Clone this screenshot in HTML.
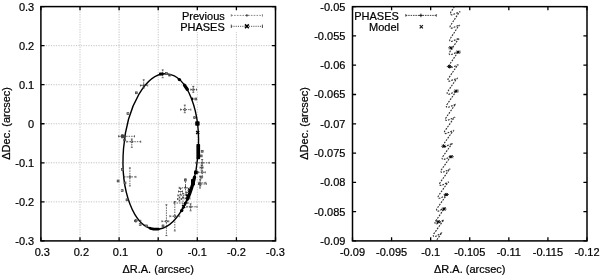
<!DOCTYPE html><html><head><meta charset="utf-8"><style>html,body{margin:0;padding:0;background:#fff;width:600px;height:276px;overflow:hidden}svg{display:block;filter:blur(0.4px)}text{font-family:"Liberation Sans", sans-serif;font-size:11px;fill:#000;stroke:#000;stroke-width:0.22px}</style></head><body>
<svg width="600" height="276" viewBox="0 0 600 276">
<path d="M80.00 6.60V240.90M119.10 6.60V240.90M158.20 6.60V240.90M197.30 6.60V240.90M236.40 6.60V240.90M40.90 45.65H275.50M40.90 84.70H275.50M40.90 123.75H275.50M40.90 162.80H275.50M40.90 201.85H275.50" stroke="#aaa" stroke-width="0.7" stroke-dasharray="1.2 1.3" fill="none"/>
<rect x="176" y="7.5" width="95" height="24.5" fill="#fff"/>
<path d="M40.90 240.90v-3.6M40.90 6.60v3.6M80.00 240.90v-3.6M80.00 6.60v3.6M119.10 240.90v-3.6M119.10 6.60v3.6M158.20 240.90v-3.6M158.20 6.60v3.6M197.30 240.90v-3.6M197.30 6.60v3.6M236.40 240.90v-3.6M236.40 6.60v3.6M275.50 240.90v-3.6M275.50 6.60v3.6M40.90 6.60h3.6M275.50 6.60h-3.6M40.90 45.65h3.6M275.50 45.65h-3.6M40.90 84.70h3.6M275.50 84.70h-3.6M40.90 123.75h3.6M275.50 123.75h-3.6M40.90 162.80h3.6M275.50 162.80h-3.6M40.90 201.85h3.6M275.50 201.85h-3.6M40.90 240.90h3.6M275.50 240.90h-3.6" stroke="#000" stroke-width="1.3" fill="none"/>
<rect x="40.9" y="6.6" width="234.60" height="234.30" stroke="#000" stroke-width="1.5" fill="none"/>
<path d="M352.50 240.90v-3.6M352.50 6.65v3.6M391.58 240.90v-3.6M391.58 6.65v3.6M430.67 240.90v-3.6M430.67 6.65v3.6M469.75 240.90v-3.6M469.75 6.65v3.6M508.83 240.90v-3.6M508.83 6.65v3.6M547.92 240.90v-3.6M547.92 6.65v3.6M587.00 240.90v-3.6M587.00 6.65v3.6M352.50 6.65h3.6M587.00 6.65h-3.6M352.50 35.93h3.6M587.00 35.93h-3.6M352.50 65.21h3.6M587.00 65.21h-3.6M352.50 94.49h3.6M587.00 94.49h-3.6M352.50 123.78h3.6M587.00 123.78h-3.6M352.50 153.06h3.6M587.00 153.06h-3.6M352.50 182.34h3.6M587.00 182.34h-3.6M352.50 211.62h3.6M587.00 211.62h-3.6M352.50 240.90h3.6M587.00 240.90h-3.6" stroke="#000" stroke-width="1.3" fill="none"/>
<rect x="352.5" y="6.65" width="234.50" height="234.25" stroke="#000" stroke-width="1.5" fill="none"/>
<text x="42.30" y="256.2" text-anchor="middle">0.3</text>
<text x="81.40" y="256.2" text-anchor="middle">0.2</text>
<text x="120.50" y="256.2" text-anchor="middle">0.1</text>
<text x="159.60" y="256.2" text-anchor="middle">0</text>
<text x="197.30" y="256.2" text-anchor="middle">-0.1</text>
<text x="236.40" y="256.2" text-anchor="middle">-0.2</text>
<text x="275.50" y="256.2" text-anchor="middle">-0.3</text>
<text x="34.2" y="10.70" text-anchor="end">0.3</text>
<text x="34.2" y="49.75" text-anchor="end">0.2</text>
<text x="34.2" y="88.80" text-anchor="end">0.1</text>
<text x="34.2" y="127.85" text-anchor="end">0</text>
<text x="34.2" y="166.90" text-anchor="end">-0.1</text>
<text x="34.2" y="205.95" text-anchor="end">-0.2</text>
<text x="34.2" y="245.00" text-anchor="end">-0.3</text>
<text x="352.50" y="256.2" text-anchor="middle">-0.09</text>
<text x="391.58" y="256.2" text-anchor="middle">-0.095</text>
<text x="430.67" y="256.2" text-anchor="middle">-0.1</text>
<text x="469.75" y="256.2" text-anchor="middle">-0.105</text>
<text x="508.83" y="256.2" text-anchor="middle">-0.11</text>
<text x="547.92" y="256.2" text-anchor="middle">-0.115</text>
<text x="587.00" y="256.2" text-anchor="middle">-0.12</text>
<text x="345.4" y="10.55" text-anchor="end">-0.05</text>
<text x="345.4" y="39.83" text-anchor="end">-0.055</text>
<text x="345.4" y="69.11" text-anchor="end">-0.06</text>
<text x="345.4" y="98.39" text-anchor="end">-0.065</text>
<text x="345.4" y="127.68" text-anchor="end">-0.07</text>
<text x="345.4" y="156.96" text-anchor="end">-0.075</text>
<text x="345.4" y="186.24" text-anchor="end">-0.08</text>
<text x="345.4" y="215.52" text-anchor="end">-0.085</text>
<text x="345.4" y="244.80" text-anchor="end">-0.09</text>
<text x="158.20" y="272.8" text-anchor="middle">ΔR.A. (arcsec)</text>
<text x="469.75" y="272.8" text-anchor="middle">ΔR.A. (arcsec)</text>
<text transform="translate(9.9 123.35) rotate(-90)" text-anchor="middle">ΔDec. (arcsec)</text>
<text transform="translate(308.0 123.38) rotate(-90)" text-anchor="middle">ΔDec. (arcsec)</text>
<text x="224.8" y="19.7" text-anchor="end">Previous</text>
<text x="224.8" y="30.6" text-anchor="end">PHASES</text>
<text x="398.9" y="19.6" text-anchor="end">PHASES</text>
<text x="399.0" y="30.7" text-anchor="end">Model</text>
<path d="M231.3 15.4H262.4" stroke="#555" stroke-width="0.7" stroke-dasharray="1.6 1.2" fill="none"/>
<path d="M231.3 14.2v2.4M262.4 14.2v2.4" stroke="#555" stroke-width="0.7" fill="none"/>
<path d="M245.50 15.40H248.30M246.90 14.00V16.80" stroke="#333" stroke-width="0.8" fill="none"/>
<path d="M231.3 26.3H262.4" stroke="#222" stroke-width="0.8" stroke-dasharray="1.1 1.1" fill="none"/>
<path d="M231.3 24.6v3.4M262.4 24.6v3.4" stroke="#222" stroke-width="0.8" fill="none"/>
<path d="M245.00 24.40L248.80 28.20M245.00 28.20L248.80 24.40" stroke="#000" stroke-width="1.5" fill="none"/>
<path d="M405.8 15.4H436.3" stroke="#222" stroke-width="0.85" stroke-dasharray="1.5 0.9" fill="none"/>
<path d="M405.8 14.1v2.6M436.3 14.1v2.6" stroke="#222" stroke-width="0.8" fill="none"/>
<path d="M419.10 15.40H422.70M420.90 13.60V17.20" stroke="#111" stroke-width="0.9" fill="none"/>
<path d="M419.70 25.10L422.90 28.30M419.70 28.30L422.90 25.10" stroke="#111" stroke-width="1.1" fill="none"/>
<ellipse cx="160.77" cy="151.5" rx="37.36" ry="77.9" transform="rotate(4.6 160.77 151.5)" stroke="#000" stroke-width="1.4" fill="none"/>
<rect x="165.35" y="72.45" width="1.90" height="1.90" stroke="#444" stroke-width="0.7" fill="#888"/>
<rect x="168.65" y="74.15" width="1.90" height="1.90" stroke="#444" stroke-width="0.7" fill="#888"/>
<path d="M190.80 89.60H196.50M193.30 86.40V92.30" stroke="#333" stroke-width="0.75" stroke-dasharray="1.5 1.0" fill="none"/><path d="M190.80 88.60v2.0M196.50 88.60v2.0M192.30 86.40h2.0M192.30 92.30h2.0" stroke="#333" stroke-width="0.75" fill="none"/>
<circle cx="193.30" cy="89.60" r="1.1" stroke="#333" stroke-width="0.65" fill="none"/>
<rect x="194.85" y="98.05" width="1.90" height="1.90" stroke="#444" stroke-width="0.7" fill="#888"/>
<path d="M180.60 109.60H190.80M184.80 105.10V112.70" stroke="#333" stroke-width="0.75" stroke-dasharray="1.5 1.0" fill="none"/><path d="M180.60 108.60v2.0M190.80 108.60v2.0M183.80 105.10h2.0M183.80 112.70h2.0" stroke="#333" stroke-width="0.75" fill="none"/>
<circle cx="184.80" cy="109.60" r="1.1" stroke="#333" stroke-width="0.65" fill="none"/>
<rect x="193.65" y="116.65" width="1.90" height="1.90" stroke="#444" stroke-width="0.7" fill="#888"/>
<path d="M140.40 85.50H147.70M143.70 79.80V88.00" stroke="#333" stroke-width="0.75" stroke-dasharray="1.5 1.0" fill="none"/><path d="M140.40 84.50v2.0M147.70 84.50v2.0M142.70 79.80h2.0M142.70 88.00h2.0" stroke="#333" stroke-width="0.75" fill="none"/>
<circle cx="143.70" cy="85.50" r="1.1" stroke="#333" stroke-width="0.65" fill="none"/>
<rect x="135.35" y="91.85" width="1.90" height="1.90" stroke="#444" stroke-width="0.7" fill="#888"/>
<rect x="126.95" y="112.65" width="1.90" height="1.90" stroke="#444" stroke-width="0.7" fill="#888"/>
<path d="M118.60 136.30H134.50M122.10 134.80V137.80" stroke="#333" stroke-width="0.75" stroke-dasharray="1.5 1.0" fill="none"/><path d="M118.60 135.30v2.0M134.50 135.30v2.0M121.10 134.80h2.0M121.10 137.80h2.0" stroke="#333" stroke-width="0.75" fill="none"/>
<circle cx="122.10" cy="136.30" r="1.1" stroke="#333" stroke-width="0.65" fill="none"/>
<rect x="123.65" y="138.95" width="1.90" height="1.90" stroke="#444" stroke-width="0.7" fill="#888"/>
<path d="M126.80 141.70H140.70M131.80 139.00V147.30" stroke="#333" stroke-width="0.75" stroke-dasharray="1.5 1.0" fill="none"/><path d="M126.80 140.70v2.0M140.70 140.70v2.0M130.80 139.00h2.0M130.80 147.30h2.0" stroke="#333" stroke-width="0.75" fill="none"/>
<circle cx="131.80" cy="141.70" r="1.1" stroke="#333" stroke-width="0.65" fill="none"/>
<rect x="121.35" y="168.45" width="1.90" height="1.90" stroke="#444" stroke-width="0.7" fill="#888"/>
<path d="M124.00 176.90H135.90M129.90 167.90V185.90" stroke="#333" stroke-width="0.75" stroke-dasharray="1.5 1.0" fill="none"/><path d="M124.00 175.90v2.0M135.90 175.90v2.0M128.90 167.90h2.0M128.90 185.90h2.0" stroke="#333" stroke-width="0.75" fill="none"/>
<circle cx="129.90" cy="176.90" r="1.1" stroke="#333" stroke-width="0.65" fill="none"/>
<rect x="117.15" y="180.05" width="1.90" height="1.90" stroke="#444" stroke-width="0.7" fill="#888"/>
<rect x="124.05" y="181.95" width="1.90" height="1.90" stroke="#444" stroke-width="0.7" fill="#888"/>
<rect x="121.25" y="189.65" width="1.90" height="1.90" stroke="#444" stroke-width="0.7" fill="#888"/>
<rect x="126.05" y="198.85" width="1.90" height="1.90" stroke="#444" stroke-width="0.7" fill="#888"/>
<path d="M134.50 220.80H140.80M135.80 219.80V221.80" stroke="#333" stroke-width="0.75" stroke-dasharray="1.5 1.0" fill="none"/><path d="M134.50 219.80v2.0M140.80 219.80v2.0M134.80 219.80h2.0M134.80 221.80h2.0" stroke="#333" stroke-width="0.75" fill="none"/>
<circle cx="135.80" cy="220.80" r="1.1" stroke="#333" stroke-width="0.65" fill="none"/>
<rect x="139.25" y="223.65" width="1.90" height="1.90" stroke="#444" stroke-width="0.7" fill="#888"/>
<rect x="145.55" y="224.95" width="1.90" height="1.90" stroke="#444" stroke-width="0.7" fill="#888"/>
<path d="M161.90 221.30H168.80M166.40 204.80V235.60" stroke="#333" stroke-width="0.75" stroke-dasharray="1.5 1.0" fill="none"/><path d="M161.90 220.30v2.0M168.80 220.30v2.0M165.40 204.80h2.0M165.40 235.60h2.0" stroke="#333" stroke-width="0.75" fill="none"/>
<circle cx="166.40" cy="221.30" r="1.1" stroke="#333" stroke-width="0.65" fill="none"/>
<path d="M169.90 216.20H179.70M174.80 201.50V230.90" stroke="#333" stroke-width="0.75" stroke-dasharray="1.5 1.0" fill="none"/><path d="M169.90 215.20v2.0M179.70 215.20v2.0M173.80 201.50h2.0M173.80 230.90h2.0" stroke="#333" stroke-width="0.75" fill="none"/>
<circle cx="174.80" cy="216.20" r="1.1" stroke="#333" stroke-width="0.65" fill="none"/>
<rect x="162.05" y="224.95" width="1.90" height="1.90" stroke="#444" stroke-width="0.7" fill="#888"/>
<path d="M186.80 206.80H197.00M190.60 203.80V210.80" stroke="#333" stroke-width="0.75" stroke-dasharray="1.5 1.0" fill="none"/><path d="M186.80 205.80v2.0M197.00 205.80v2.0M189.60 203.80h2.0M189.60 210.80h2.0" stroke="#333" stroke-width="0.75" fill="none"/>
<circle cx="190.60" cy="206.80" r="1.1" stroke="#333" stroke-width="0.65" fill="none"/>
<path d="M195.80 162.80H209.20M202.20 159.50V165.80" stroke="#333" stroke-width="0.75" stroke-dasharray="1.5 1.0" fill="none"/><path d="M195.80 161.80v2.0M209.20 161.80v2.0M201.20 159.50h2.0M201.20 165.80h2.0" stroke="#333" stroke-width="0.75" fill="none"/>
<circle cx="202.20" cy="162.80" r="1.1" stroke="#333" stroke-width="0.65" fill="none"/>
<path d="M200.00 167.60H203.00M201.50 165.10V170.10" stroke="#333" stroke-width="0.75" stroke-dasharray="1.5 1.0" fill="none"/><path d="M200.00 166.60v2.0M203.00 166.60v2.0M200.50 165.10h2.0M200.50 170.10h2.0" stroke="#333" stroke-width="0.75" fill="none"/>
<path d="M198.80 182.80H205.80M200.30 179.80V185.80" stroke="#333" stroke-width="0.75" stroke-dasharray="1.5 1.0" fill="none"/><path d="M198.80 181.80v2.0M205.80 181.80v2.0M199.30 179.80h2.0M199.30 185.80h2.0" stroke="#333" stroke-width="0.75" fill="none"/>
<path d="M198.30 172.30H205.30M202.20 167.30V177.00" stroke="#333" stroke-width="0.75" stroke-dasharray="1.5 1.0" fill="none"/><path d="M198.30 171.30v2.0M205.30 171.30v2.0M201.20 167.30h2.0M201.20 177.00h2.0" stroke="#333" stroke-width="0.75" fill="none"/>
<circle cx="202.20" cy="172.30" r="1.1" stroke="#333" stroke-width="0.65" fill="none"/>
<path d="M198.50 184.00H206.20M200.00 176.20V188.00" stroke="#333" stroke-width="0.75" stroke-dasharray="1.5 1.0" fill="none"/><path d="M198.50 183.00v2.0M206.20 183.00v2.0M199.00 176.20h2.0M199.00 188.00h2.0" stroke="#333" stroke-width="0.75" fill="none"/>
<circle cx="200.00" cy="184.00" r="1.1" stroke="#333" stroke-width="0.65" fill="none"/>
<rect x="201.25" y="150.35" width="1.90" height="1.90" stroke="#444" stroke-width="0.7" fill="#888"/>
<rect x="200.25" y="154.95" width="1.90" height="1.90" stroke="#444" stroke-width="0.7" fill="#888"/>
<rect x="200.25" y="176.25" width="1.90" height="1.90" stroke="#444" stroke-width="0.7" fill="#888"/>
<path d="M185.50 186.50H185.50M185.50 178.90V194.10" stroke="#333" stroke-width="0.75" stroke-dasharray="1.5 1.0" fill="none"/><path d="M185.50 185.50v2.0M185.50 185.50v2.0M184.50 178.90h2.0M184.50 194.10h2.0" stroke="#333" stroke-width="0.75" fill="none"/>
<path d="M179.20 187.80H191.90M185.50 187.80V187.80" stroke="#333" stroke-width="0.75" stroke-dasharray="1.5 1.0" fill="none"/><path d="M179.20 186.80v2.0M191.90 186.80v2.0M184.50 187.80h2.0M184.50 187.80h2.0" stroke="#333" stroke-width="0.75" fill="none"/>
<path d="M177.90 195.40H188.00M183.00 193.40V197.40" stroke="#333" stroke-width="0.75" stroke-dasharray="1.5 1.0" fill="none"/><path d="M177.90 194.40v2.0M188.00 194.40v2.0M182.00 193.40h2.0M182.00 197.40h2.0" stroke="#333" stroke-width="0.75" fill="none"/>
<path d="M174.10 203.00H188.00M183.00 197.90V208.00" stroke="#333" stroke-width="0.75" stroke-dasharray="1.5 1.0" fill="none"/><path d="M174.10 202.00v2.0M188.00 202.00v2.0M182.00 197.90h2.0M182.00 208.00h2.0" stroke="#333" stroke-width="0.75" fill="none"/>
<path d="M178.50 191.50H182.50M180.50 188.50V194.50" stroke="#333" stroke-width="0.75" stroke-dasharray="1.5 1.0" fill="none"/><path d="M178.50 190.50v2.0M182.50 190.50v2.0M179.50 188.50h2.0M179.50 194.50h2.0" stroke="#333" stroke-width="0.75" fill="none"/>
<path d="M186.50 192.50H190.50M188.50 190.50V194.50" stroke="#333" stroke-width="0.75" stroke-dasharray="1.5 1.0" fill="none"/><path d="M186.50 191.50v2.0M190.50 191.50v2.0M187.50 190.50h2.0M187.50 194.50h2.0" stroke="#333" stroke-width="0.75" fill="none"/>
<path d="M185.00 198.50H190.00M187.50 196.50V200.50" stroke="#333" stroke-width="0.75" stroke-dasharray="1.5 1.0" fill="none"/><path d="M185.00 197.50v2.0M190.00 197.50v2.0M186.50 196.50h2.0M186.50 200.50h2.0" stroke="#333" stroke-width="0.75" fill="none"/>
<path d="M177.50 199.00H181.50M179.50 197.00V201.00" stroke="#333" stroke-width="0.75" stroke-dasharray="1.5 1.0" fill="none"/><path d="M177.50 198.00v2.0M181.50 198.00v2.0M178.50 197.00h2.0M178.50 201.00h2.0" stroke="#333" stroke-width="0.75" fill="none"/>
<path d="M162.70 73.80H162.70M162.70 69.90V77.70" stroke="#333" stroke-width="0.75" stroke-dasharray="1.5 1.0" fill="none"/><path d="M162.70 72.80v2.0M162.70 72.80v2.0M161.70 69.90h2.0M161.70 77.70h2.0" stroke="#333" stroke-width="0.75" fill="none"/>
<rect x="184.35" y="179.15" width="1.90" height="1.90" stroke="#444" stroke-width="0.7" fill="#888"/>
<ellipse cx="123.3" cy="136.3" rx="2.8" ry="1.8" fill="#444"/>
<rect x="159.0" y="72.4" width="4.60" height="3.00" rx="0.8" fill="#000"/>
<rect x="195.2" y="121.3" width="4.40" height="4.40" rx="0.8" fill="#000"/>
<rect x="196.4" y="144.0" width="3.70" height="15.20" rx="0.8" fill="#000"/>
<rect x="194.0" y="170.6" width="3.80" height="3.60" rx="0.8" fill="#000"/>
<rect x="191.0" y="179.0" width="3.90" height="6.60" rx="0.8" fill="#000"/>
<path d="M194.56 177.07L194.26 178.34L193.95 179.61L193.63 180.87L193.30 182.12L192.96 183.37L192.61 184.60L192.25 185.82L191.88 187.03L191.50 188.23L191.11 189.42L190.72 190.60L190.31 191.77L189.90 192.92L189.47 194.06L189.04 195.19L188.60 196.30L188.15 197.40L187.69 198.49" stroke="#000" stroke-width="3.3" stroke-linecap="round" fill="none"/>
<path d="M187.69 198.49L187.23 199.56L186.75 200.62L186.27 201.67L185.78 202.69L185.28 203.71L184.78 204.70L184.26 205.68L183.74 206.65L183.22 207.59L182.68 208.52L182.14 209.44L181.60 210.33L181.05 211.21" stroke="#000" stroke-width="1.9" stroke-linecap="round" fill="none"/>
<circle cx="181.7" cy="210.6" r="1.7" fill="#000"/>
<circle cx="185.2" cy="203.4" r="1.4" fill="#000"/>
<path d="M158.45 229.04L157.79 229.11L157.14 229.17L156.48 229.20L155.83 229.21L155.17 229.19L154.52 229.15L153.87 229.08L153.23 229.00L152.58 228.89L151.94 228.75L151.30 228.59L150.66 228.41L150.03 228.21" stroke="#000" stroke-width="2.8" stroke-linecap="round" fill="none"/>
<path d="M184.4 85.2L187.4 89.5" stroke="#000" stroke-width="3.2" stroke-linecap="round"/>
<circle cx="179.4" cy="79.6" r="1.7" fill="#000"/>
<circle cx="192.2" cy="98.9" r="1.3" fill="#000"/>
<path d="M196.20 131.10L199.20 134.10M196.20 134.10L199.20 131.10" stroke="#000" stroke-width="1.4" fill="none"/>
<path d="M188.10 188.50L191.10 191.50M188.10 191.50L191.10 188.50" stroke="#000" stroke-width="1.4" fill="none"/>
<path d="M185.80 194.50L188.80 197.50M185.80 197.50L188.80 194.50" stroke="#000" stroke-width="1.4" fill="none"/>
<path d="M182.10 205.00L185.10 208.00M182.10 208.00L185.10 205.00" stroke="#000" stroke-width="1.4" fill="none"/>
<path d="M454.40 6.65L451.37 11.34C450.11 12.97 449.85 14.92 452.15 14.82Q455.42 13.72 458.69 12.03C460.31 11.23 460.31 12.13 459.00 12.55L451.04 24.68C449.77 26.31 449.52 28.26 451.82 28.16Q455.08 27.08 458.35 25.39C459.97 24.61 459.97 25.51 458.66 25.92L450.63 37.99C449.35 39.62 449.09 41.56 451.39 41.46Q454.66 40.39 457.92 38.72C459.55 37.93 459.55 38.83 458.23 39.24L450.14 51.27C448.85 52.88 448.59 54.82 450.89 54.72Q454.15 53.66 457.41 51.99C459.03 51.21 459.03 52.11 457.71 52.52L449.56 64.50C448.26 66.11 448.00 68.05 450.30 67.95Q453.55 66.89 456.81 65.23C458.43 64.44 458.43 65.34 457.11 65.75L448.90 77.70C447.59 79.31 447.32 81.25 449.62 81.15Q452.87 80.08 456.12 78.42C457.74 77.63 457.74 78.53 456.41 78.93L448.15 90.87C446.84 92.47 446.57 94.40 448.87 94.30Q452.10 93.23 455.34 91.56C456.96 90.77 456.96 91.67 455.63 92.07L447.31 103.99C446.00 105.59 445.72 107.52 448.02 107.42Q451.25 106.34 454.47 104.66C456.09 103.86 456.09 104.76 454.76 105.16L446.39 117.08C445.07 118.68 444.80 120.61 447.10 120.51Q450.31 119.41 453.51 117.71C455.13 116.91 455.13 117.81 453.80 118.21L445.39 130.14C444.06 131.73 443.79 133.66 446.09 133.56Q449.28 132.44 452.47 130.72C454.08 129.92 454.08 130.82 452.75 131.21L444.30 143.15C442.97 144.74 442.69 146.68 444.99 146.58Q448.16 145.43 451.33 143.69C452.94 142.88 452.94 143.78 451.61 144.17L443.12 156.13C441.79 157.72 441.52 159.65 443.82 159.55Q446.96 158.38 450.11 156.61C451.72 155.79 451.72 156.69 450.38 157.08L441.86 169.08C440.53 170.67 440.26 172.60 442.56 172.50Q445.68 171.29 448.80 169.49C450.40 168.65 450.40 169.55 449.06 169.95L440.52 181.98C439.19 183.57 438.91 185.50 441.21 185.40Q444.31 184.16 447.40 182.32C449.00 181.47 449.00 182.37 447.66 182.77L439.08 194.85C437.76 196.44 437.48 198.37 439.78 198.27Q442.85 196.99 445.91 195.11C447.50 194.25 447.50 195.15 446.17 195.55L437.57 207.69C436.24 209.28 435.97 211.21 438.27 211.11Q441.30 209.78 444.34 207.85C445.92 206.98 445.92 207.88 444.59 208.28L435.97 220.48C434.64 222.08 434.37 224.01 436.67 223.91Q439.67 222.53 442.67 220.55C444.25 219.66 444.25 220.56 442.92 220.96L434.28 233.24C432.96 234.84 432.69 236.77 434.99 236.67Q437.95 235.24 440.92 233.20C442.49 232.30 442.49 233.20 441.16 233.60L436.05 240.90" stroke="#333" stroke-width="1.15" stroke-dasharray="1.8 1.15" stroke-linejoin="round" fill="none"/>
<path d="M449.30 46.30L452.30 49.30M449.30 49.30L452.30 46.30" stroke="#000" stroke-width="0.95" fill="none"/>
<path d="M448.20 47.80H453.40M450.80 46.20V49.40" stroke="#000" stroke-width="0.75" fill="none"/>
<path d="M456.80 50.60L459.80 53.60M456.80 53.60L459.80 50.60" stroke="#000" stroke-width="0.95" fill="none"/>
<path d="M455.70 52.10H460.90M458.30 50.50V53.70" stroke="#000" stroke-width="0.75" fill="none"/>
<path d="M447.90 65.00L450.90 68.00M447.90 68.00L450.90 65.00" stroke="#000" stroke-width="0.95" fill="none"/>
<path d="M446.80 66.50H452.00M449.40 64.90V68.10" stroke="#000" stroke-width="0.75" fill="none"/>
<path d="M454.80 89.50L457.80 92.50M454.80 92.50L457.80 89.50" stroke="#000" stroke-width="0.95" fill="none"/>
<path d="M453.70 91.00H458.90M456.30 89.40V92.60" stroke="#000" stroke-width="0.75" fill="none"/>
<path d="M442.30 144.80L445.30 147.80M442.30 147.80L445.30 144.80" stroke="#000" stroke-width="0.95" fill="none"/>
<path d="M441.20 146.30H446.40M443.80 144.70V147.90" stroke="#000" stroke-width="0.75" fill="none"/>
<path d="M449.70 155.20L452.70 158.20M449.70 158.20L452.70 155.20" stroke="#000" stroke-width="0.95" fill="none"/>
<path d="M448.60 156.70H453.80M451.20 155.10V158.30" stroke="#000" stroke-width="0.75" fill="none"/>
<path d="M444.80 193.00L447.80 196.00M444.80 196.00L447.80 193.00" stroke="#000" stroke-width="0.95" fill="none"/>
<path d="M443.70 194.50H448.90M446.30 192.90V196.10" stroke="#000" stroke-width="0.75" fill="none"/>
<path d="M442.40 207.60L445.40 210.60M442.40 210.60L445.40 207.60" stroke="#000" stroke-width="0.95" fill="none"/>
<path d="M441.30 209.10H446.50M443.90 207.50V210.70" stroke="#000" stroke-width="0.75" fill="none"/>
<path d="M436.70 220.20L439.70 223.20M436.70 223.20L439.70 220.20" stroke="#000" stroke-width="0.95" fill="none"/>
<path d="M435.60 221.70H440.80M438.20 220.10V223.30" stroke="#000" stroke-width="0.75" fill="none"/>
</svg></body></html>
